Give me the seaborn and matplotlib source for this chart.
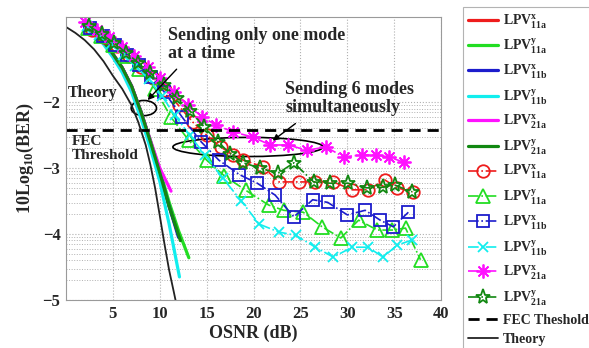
import matplotlib
matplotlib.use("Agg")
import matplotlib.pyplot as plt
import seaborn as sns
import numpy as np
from matplotlib.patches import Ellipse

# ---- data: OSNR (dB) vs log10(BER) ----
theory_x = [0.0, 1.0, 2.0, 3.0, 4.0, 5.0, 6.0, 7.0, 7.7, 8.5, 9.0, 9.5, 10.0, 10.5, 11.0, 11.5, 11.75]
theory_y = [-0.86, -0.95, -1.06, -1.2, -1.38, -1.6, -1.8, -2.05, -2.3, -2.65, -2.95, -3.3, -3.72, -4.15, -4.55, -4.88, -5.05]

fec_level = -2.42

# single mode at a time (solid lines)
single_x = [2, 3, 4, 5, 6, 7, 8, 9, 10, 11, 12]
s_lp11a_x = [-0.85, -0.95, -1.08, -1.27, -1.48, -1.76, -2.15, -2.6, -3.07, -3.58, -4.0]
s_lp11a_y_x = [2, 3, 4, 5, 6, 7, 8, 9, 10, 11, 12, 13.1]
s_lp11a_y = [-0.86, -0.96, -1.09, -1.28, -1.5, -1.78, -2.15, -2.58, -3.03, -3.52, -3.95, -4.36]
s_lp11b_x = [-0.85, -0.95, -1.08, -1.27, -1.48, -1.76, -2.15, -2.6, -3.07, -3.58, -4.05]
s_lp11b_y_x = [2, 3, 4, 5, 6, 7, 8, 9, 10, 11, 12.1]
s_lp11b_y = [-0.87, -0.98, -1.12, -1.32, -1.55, -1.85, -2.25, -2.7, -3.2, -3.85, -4.65]
s_lp21a_x_x = [2, 3, 4, 5, 6, 7, 8, 9, 10, 11.2]
s_lp21a_x = [-0.85, -0.95, -1.08, -1.27, -1.48, -1.76, -2.15, -2.58, -3.0, -3.35]
s_lp21a_y_x = [2, 3, 4, 5, 6, 7, 8, 9, 10, 11, 12.2]
s_lp21a_y = [-0.85, -0.95, -1.08, -1.27, -1.48, -1.76, -2.15, -2.6, -3.07, -3.58, -4.1]

# six modes simultaneously (markers)
m_lp11a_x_x = [2.8, 4.1, 5.4, 6.7, 8, 9.3, 10.6, 12, 13.5, 15, 16.5, 17.8, 18.9, 21.0, 22.7, 24.8, 26.6, 28.5, 30.5, 32.2, 34.0, 35.3, 37.0]
m_lp11a_x = [-0.9, -1.02, -1.15, -1.3, -1.46, -1.63, -1.82, -2.05, -2.3, -2.5, -2.68, -2.8, -2.88, -2.98, -3.21, -3.21, -3.21, -3.21, -3.33, -3.33, -3.18, -3.30, -3.36]
m_lp11a_y_x = [2.4, 3.7, 5.0, 6.4, 7.8, 9.5, 11.2, 13.1, 15.0, 16.9, 19.2, 21.6, 23.2, 25.3, 27.3, 29.3, 31.2, 33.2, 34.8, 36.2, 37.8]
m_lp11a_y = [-0.87, -1.0, -1.14, -1.3, -1.5, -1.8, -2.23, -2.58, -2.88, -3.12, -3.34, -3.56, -3.64, -3.67, -3.89, -4.06, -3.79, -3.94, -3.94, -3.91, -4.39]
m_lp11b_x_x = [2.6, 3.9, 5.2, 6.5, 7.8, 9.1, 10.5, 12.4, 14.4, 16.3, 18.5, 20.4, 22.3, 24.3, 26.3, 27.9, 30.0, 31.9, 33.5, 34.9, 36.5]
m_lp11b_x = [-0.88, -1.0, -1.13, -1.28, -1.44, -1.62, -1.85, -2.23, -2.6, -2.88, -3.1, -3.23, -3.41, -3.74, -3.48, -3.52, -3.71, -3.64, -3.79, -3.89, -3.67]
m_lp11b_y_x = [2.2, 3.5, 4.8, 6.1, 7.4, 8.8, 10.2, 11.6, 13.2, 14.8, 16.7, 18.7, 20.6, 22.7, 24.5, 26.6, 28.5, 30.5, 32.2, 33.8, 35.3, 36.9]
m_lp11b_y = [-0.85, -0.98, -1.12, -1.28, -1.45, -1.65, -1.9, -2.2, -2.5, -2.8, -3.15, -3.5, -3.85, -3.97, -4.02, -4.2, -4.35, -4.2, -4.2, -4.35, -4.17, -4.09]
m_lp21a_x_x = [2, 3.3, 4.6, 6, 7.3, 8.7, 10, 11.5, 13, 14.5, 16, 17.8, 19.9, 21.8, 23.7, 25.7, 27.7, 29.6, 31.6, 33.0, 34.4, 36.0]
m_lp21a_x = [-0.78, -0.9, -1.02, -1.16, -1.3, -1.46, -1.63, -1.85, -2.05, -2.22, -2.35, -2.45, -2.53, -2.65, -2.65, -2.73, -2.68, -2.83, -2.8, -2.8, -2.83, -2.91]
m_lp21a_y_x = [2.5, 3.8, 5.1, 6.4, 7.7, 9, 10.4, 11.8, 13.2, 14.7, 16.2, 17.5, 18.9, 20.7, 22.6, 24.3, 26.4, 28.2, 30.1, 32.1, 33.8, 35.1, 36.9]
m_lp21a_y = [-0.85, -0.97, -1.1, -1.25, -1.4, -1.56, -1.74, -1.93, -2.13, -2.37, -2.6, -2.78, -2.92, -3.0, -3.08, -2.92, -3.21, -3.23, -3.23, -3.3, -3.29, -3.26, -3.36]

labels = [r"$\mathbf{LPV}^{\mathbf{x}}_{\mathbf{11a}}$", r"$\mathbf{LPV}^{\mathbf{y}}_{\mathbf{11a}}$",
          r"$\mathbf{LPV}^{\mathbf{x}}_{\mathbf{11b}}$", r"$\mathbf{LPV}^{\mathbf{y}}_{\mathbf{11b}}$",
          r"$\mathbf{LPV}^{\mathbf{x}}_{\mathbf{21a}}$", r"$\mathbf{LPV}^{\mathbf{y}}_{\mathbf{21a}}$"]
colors = ["#ee1c1c", "#22dd22", "#1c1ccc", "#11eeee", "#ff11ff", "#118811"]

sns.set_style("white")
plt.rcParams["font.family"] = ["Liberation Serif", "DejaVu Serif"]
plt.rcParams["font.weight"] = "bold"
plt.rcParams["mathtext.fontset"] = "custom"
plt.rcParams["mathtext.rm"] = "Liberation Serif"
plt.rcParams["mathtext.bf"] = "Liberation Serif:bold"

fig = plt.figure(figsize=(5.89, 3.48), dpi=100)
ax = fig.add_axes([0.112, 0.138, 0.637, 0.813])

single = [(single_x, s_lp11a_x), (s_lp11a_y_x, s_lp11a_y), (single_x, s_lp11b_x),
          (s_lp11b_y_x, s_lp11b_y), (s_lp21a_x_x, s_lp21a_x), (s_lp21a_y_x, s_lp21a_y)]
for (xs, ys), c, lab in zip(single, colors, labels):
    sns.lineplot(x=xs, y=ys, ax=ax, color=c, linewidth=2.3, label=lab)

multi = [(m_lp11a_x_x, m_lp11a_x), (m_lp11a_y_x, m_lp11a_y), (m_lp11b_x_x, m_lp11b_x),
         (m_lp11b_y_x, m_lp11b_y), (m_lp21a_x_x, m_lp21a_x), (m_lp21a_y_x, m_lp21a_y)]
markers = ["o", "^", "s", "x", (8, 2, 0), "*"]
msizes = [9, 10, 8, 7, 10, 11]
for (xs, ys), c, lab, mk, ms in zip(multi, colors, labels, markers, msizes):
    sns.lineplot(x=xs, y=ys, ax=ax, color=c, linewidth=1.2, linestyle="-.",
                 marker=mk, markersize=ms, markerfacecolor="none",
                 markeredgecolor=c, markeredgewidth=1.3, label=lab)

ax.axhline(fec_level, color="black", linestyle=(0, (4, 2.5)), linewidth=2.0, label="FEC Theshold")
sns.lineplot(x=theory_x, y=theory_y, ax=ax, color="#222222", linewidth=1.3, label="Theory")

# annotations
ax.text(10.85, -0.86, "Sending only one mode\nat a time", fontsize=13, fontweight="bold",
        ha="left", va="top", linespacing=1.1)
ax.text(23.4, -1.68, "Sending 6 modes\nsimultaneously", fontsize=13, fontweight="bold",
        ha="left", va="top", linespacing=1.1)
ax.text(0.2, -1.86, "Theory", fontsize=11.5, fontweight="bold", ha="left", va="center")
ax.text(0.6, -2.5, "FEC\nThreshold", fontsize=11, fontweight="bold", ha="left", va="top",
        linespacing=1.05)
ax.add_patch(Ellipse((8.3, -2.09), 2.7, 0.23, fill=False, edgecolor="black", linewidth=1.2))
ax.add_patch(Ellipse((19.4, -2.68), 16.0, 0.29, fill=False, edgecolor="black", linewidth=1.2))
ax.annotate("", xy=(8.5, -2.0), xytext=(12.0, -1.47),
            arrowprops=dict(arrowstyle="-|>", color="black", lw=1.0, mutation_scale=9))
ax.annotate("", xy=(21.8, -2.61), xytext=(24.7, -2.30),
            arrowprops=dict(arrowstyle="-|>", color="black", lw=1.0, mutation_scale=9))

# axes & grid
ax.set_xlim(0, 40)
ax.set_ylim(-5, -0.71)
ax.set_xticks([5, 10, 15, 20, 25, 30, 35, 40])
ax.set_yticks([-2, -3, -4, -5])
ax.set_yticks([d + np.log10(k) for d in (-5, -4, -3) for k in range(2, 10)], minor=True)
ax.grid(which="major", axis="x", color="#b0b0b0", linestyle=":", linewidth=0.8)
ax.grid(which="major", axis="y", color="#b0b0b0", linestyle=":", linewidth=0.8)
ax.grid(which="minor", axis="y", color="#b0b0b0", linestyle=":", linewidth=0.7)
ax.tick_params(axis="both", which="major", labelsize=12, length=0, pad=4)
ax.tick_params(axis="y", which="minor", length=0)
for lab in ax.get_xticklabels() + ax.get_yticklabels():
    lab.set_fontweight("bold")
for sp in ax.spines.values():
    sp.set_color("#9a9a9a")
    sp.set_linewidth(0.8)
ax.set_xlabel("OSNR (dB)", fontsize=13, fontweight="bold", labelpad=2)
ax.set_ylabel(r"10Log$_{\mathbf{10}}$(BER)", fontsize=13, fontweight="bold", labelpad=5)

handles, labs = ax.get_legend_handles_labels()
ax.get_legend().remove()
leg = fig.legend(handles, labs, loc="upper left", bbox_to_anchor=(463 / 589, 1 - 7 / 348),
                 fontsize=10, frameon=True, fancybox=False, edgecolor="#a0a0a0",
                 handlelength=2.2, handletextpad=0.3, labelspacing=0.42, borderpad=0.35,
                 borderaxespad=0)
leg.get_frame().set_linewidth(0.8)

fig.savefig("out.png", dpi=100)
